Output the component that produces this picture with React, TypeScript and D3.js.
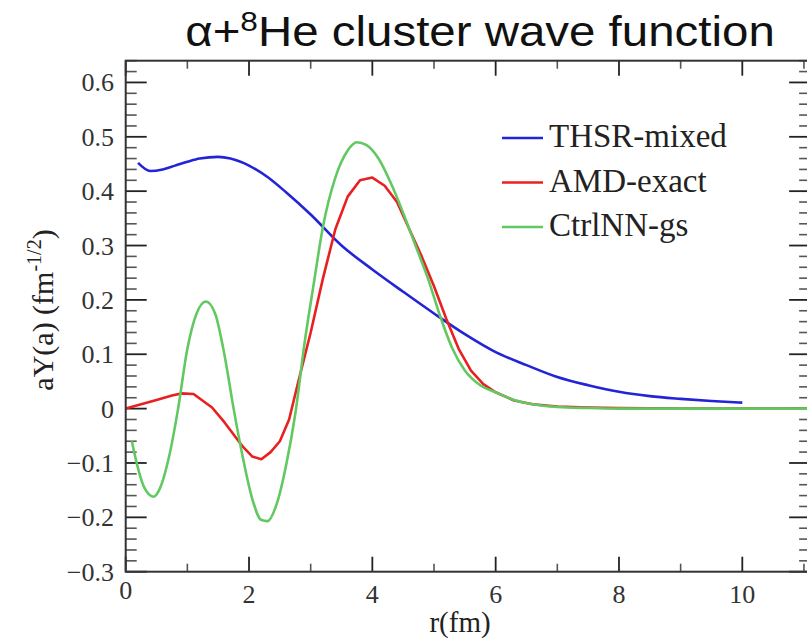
import React from 'react';
import * as d3 from 'd3';

const xTicks = [0, 2, 4, 6, 8, 10];
const yTicks = [-0.3, -0.2, -0.1, 0, 0.1, 0.2, 0.3, 0.4, 0.5, 0.6];
const seriesNames = ['THSR-mixed', 'AMD-exact', 'CtrlNN-gs'];
const seriesColors = ['#2323d8', '#e82020', '#62c862'];

const thsr: [number, number][] = [
  [0.2, 0.452], [0.4, 0.437], [0.6, 0.440], [0.8, 0.447], [1.0, 0.454], [1.2, 0.460],
  [1.5, 0.463], [1.7, 0.460], [2.0, 0.447], [2.3, 0.426], [2.6, 0.398], [3.0, 0.357],
  [3.5, 0.300], [4.0, 0.256], [4.5, 0.215], [5.0, 0.175], [5.5, 0.137], [6.0, 0.104],
  [6.5, 0.080], [7.0, 0.058], [7.5, 0.043], [8.0, 0.031], [8.5, 0.023], [9.0, 0.018],
  [9.5, 0.014], [10.0, 0.011],
];

const amd: [number, number][] = [
  [0, 0], [0.25, 0.008], [0.5, 0.016], [0.75, 0.024], [0.9, 0.028], [1.1, 0.027],
  [1.4, 0.002], [1.6, -0.025], [1.9, -0.07], [2.05, -0.088], [2.2, -0.093], [2.35, -0.08],
  [2.5, -0.06], [2.65, -0.02], [2.8, 0.05], [3.0, 0.14], [3.2, 0.24], [3.4, 0.33],
  [3.6, 0.39], [3.8, 0.42], [4.0, 0.425], [4.2, 0.41], [4.4, 0.38], [4.6, 0.33],
  [4.8, 0.28], [5.0, 0.225], [5.2, 0.165], [5.4, 0.11], [5.6, 0.07], [5.8, 0.045],
  [6.0, 0.03], [6.3, 0.015], [6.6, 0.008], [7.0, 0.004], [7.5, 0.002], [8.0, 0.001],
  [9.0, 0], [10.0, 0], [11.2, 0],
];

const ctrlnn: [number, number][] = [
  [0.1, -0.06], [0.2, -0.11], [0.3, -0.145], [0.45, -0.162], [0.55, -0.148], [0.7, -0.09],
  [0.85, 0.0], [1.0, 0.11], [1.15, 0.175], [1.3, 0.197], [1.45, 0.175], [1.6, 0.1],
  [1.75, 0.0], [1.9, -0.09], [2.05, -0.165], [2.2, -0.205], [2.3, -0.207], [2.45, -0.175],
  [2.6, -0.105], [2.75, -0.01], [2.9, 0.12], [3.05, 0.23], [3.2, 0.335], [3.4, 0.425],
  [3.6, 0.475], [3.75, 0.49], [3.9, 0.485], [4.1, 0.46], [4.3, 0.415], [4.5, 0.36],
  [4.7, 0.3], [4.9, 0.24], [5.1, 0.17], [5.3, 0.11], [5.5, 0.07], [5.75, 0.043],
  [6.0, 0.03], [6.3, 0.016], [6.6, 0.008], [7.0, 0.003], [7.5, 0.001], [8.0, 0],
  [9.0, 0], [10.0, 0], [11.2, 0],
];

const W = 807;
const H = 641;
const L = 125.7;
const T = 60.7;
const B = 571.7;
const xMax = 11.1;
const yMin = -0.3;
const yMax = 0.64;

export default function App() {
  const x = d3.scaleLinear().domain([0, xMax]).range([L, L + xMax * 61.66]);
  const y = d3.scaleLinear().domain([yMin, yMax]).range([B, T]);
  const R = x(xMax);

  const lineLinear = d3.line<[number, number]>().x(d => x(d[0])).y(d => y(d[1]));
  const lineSmooth = d3
    .line<[number, number]>()
    .x(d => x(d[0]))
    .y(d => y(d[1]))
    .curve(d3.curveMonotoneX);

  const fmt = (v: number) => (Math.abs(v) < 1e-9 ? '0' : d3.format('.1f')(v));

  const xMinor = d3.range(1, 12, 2);
  const yMinor = d3.range(-30, 65, 2).map(v => v / 100).filter(v => Math.round(v * 100) % 10 !== 0);

  const tickColor = '#222';
  const minorColor = '#555';
  const serif = '"Liberation Serif", "Times New Roman", serif';

  return (
    <svg
      width={W}
      height={H}
      style={{ position: 'absolute', left: 0, top: 0, background: '#fff' }}
      xmlns="http://www.w3.org/2000/svg"
    >
      <defs>
        <clipPath id="plotclip">
          <rect x={L} y={T} width={R - L} height={B - T} />
        </clipPath>
      </defs>
      <rect x={0} y={0} width={W} height={H} fill="#fff" />

      {/* title */}
      <g transform="translate(480, 46) scale(1.13, 1)">
        <text
          x={0}
          y={0}
          textAnchor="middle"
          fontFamily='"Liberation Sans", Arial, sans-serif'
          fontSize={42}
          fill="#111"
        >
          α+<tspan dy={-15} fontSize={28}>8</tspan>
          <tspan dy={15}>He cluster wave function</tspan>
        </text>
      </g>

      {/* minor ticks y */}
      {yMinor.map(v => (
        <g key={'ym' + v} stroke={minorColor} strokeWidth={1.6}>
          <line x1={L} x2={L + 11} y1={y(v)} y2={y(v)} />
          <line x1={R} x2={R - 11} y1={y(v)} y2={y(v)} />
        </g>
      ))}
      {yTicks.map(v => (
        <g key={'yM' + v} stroke={tickColor} strokeWidth={1.8}>
          <line x1={L} x2={L + 21} y1={y(v)} y2={y(v)} />
          <line x1={R} x2={R - 21} y1={y(v)} y2={y(v)} />
        </g>
      ))}
      {xMinor.map(v => (
        <g key={'xm' + v} stroke={minorColor} strokeWidth={1.6}>
          <line x1={x(v)} x2={x(v)} y1={B} y2={B - 8} />
          <line x1={x(v)} x2={x(v)} y1={T} y2={T + 8} />
        </g>
      ))}
      {xTicks.map(v => (
        <g key={'xM' + v} stroke={tickColor} strokeWidth={1.8}>
          <line x1={x(v)} x2={x(v)} y1={B} y2={B - 15} />
          <line x1={x(v)} x2={x(v)} y1={T} y2={T + 15} />
        </g>
      ))}

      {/* curves */}
      <g clipPath="url(#plotclip)" fill="none" strokeWidth={2.6} strokeLinejoin="round">
        <path d={lineSmooth(thsr) || ''} stroke={seriesColors[0]} />
        <path d={lineLinear(amd) || ''} stroke={seriesColors[1]} />
        <path d={lineSmooth(ctrlnn) || ''} stroke={seriesColors[2]} />
      </g>

      {/* frame */}
      <rect x={L} y={T} width={R - L} height={B - T} fill="none" stroke="#333" strokeWidth={2} />

      {/* y tick labels */}
      {yTicks.map(v => (
        <text
          key={'yl' + v}
          x={114}
          y={y(v) + 9}
          textAnchor="end"
          fontFamily={serif}
          fontSize={26}
          fill="#333"
        >
          {fmt(v)}
        </text>
      ))}
      {/* x tick labels */}
      {xTicks.map(v => (
        <text
          key={'xl' + v}
          x={x(v)}
          y={v === 0 ? 599 : 603}
          textAnchor="middle"
          fontFamily={serif}
          fontSize={26}
          fill="#333"
        >
          {v}
        </text>
      ))}

      {/* axis titles */}
      <text x={460} y={632} textAnchor="middle" fontFamily={serif} fontSize={29} fill="#222">
        r(fm)
      </text>
      <text
        transform={`translate(53, 310) rotate(-90)`}
        textAnchor="middle"
        fontFamily={serif}
        fontSize={30}
        fill="#222"
      >
        aY(a) (fm<tspan dy={-12} fontSize={20}>-1/2</tspan>
        <tspan dy={12}>)</tspan>
      </text>

      {/* legend */}
      {seriesNames.map((n, i) => (
        <g key={n}>
          <line
            x1={502}
            x2={543}
            y1={138 + i * 44.5}
            y2={138 + i * 44.5}
            stroke={seriesColors[i]}
            strokeWidth={2.6}
          />
          <text x={549} y={147 + i * 44.5} fontFamily={serif} fontSize={33} fill="#222">
            {n}
          </text>
        </g>
      ))}
    </svg>
  );
}
